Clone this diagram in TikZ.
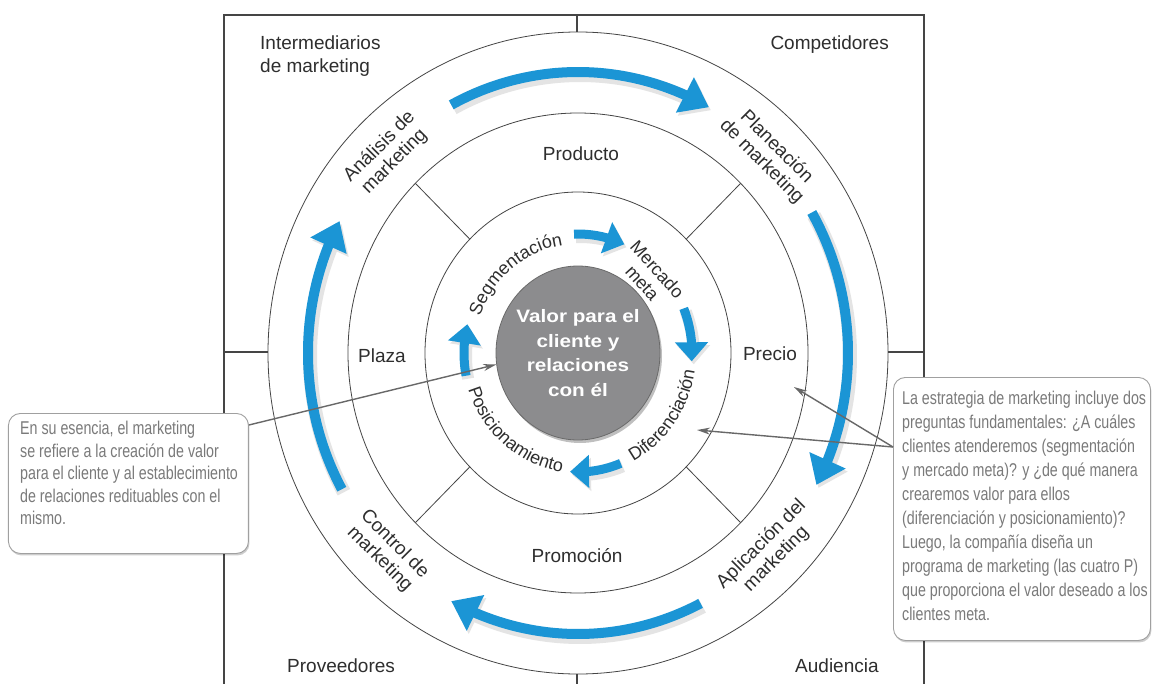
\documentclass[tikz,border=0pt]{standalone}
\usepackage{fontspec}
\setmainfont{Liberation Sans}
\newfontfamily\notefont{Liberation Sans}[FakeStretch=0.77]
\newfontfamily\corefont{Liberation Sans}[FakeStretch=1.15]
\usetikzlibrary{arrows.meta,bending,shapes.geometric,shadows,decorations.text}
\definecolor{ink}{HTML}{2E2E2E}
\definecolor{rim}{HTML}{454545}
\definecolor{flow}{HTML}{1B95D5}
\definecolor{hub}{HTML}{8C8C8E}
\definecolor{note}{HTML}{7A7A7A}
\definecolor{frame}{HTML}{A0A0A0}
\definecolor{haze}{HTML}{E4E4E4}
\newcommand{\ringfont}{\fontsize{18}{20}\selectfont}

\begin{document}
\begin{tikzpicture}[x=1pt,y=1pt,
 lbl/.style={text=ink,inner sep=0pt,font=\fontsize{19}{23}\selectfont},
 band/.style={lbl,align=center,font=\fontsize{19}{21}\selectfont},
 ring/.style={draw=rim,line width=0.8pt},
 edge/.style={draw=rim,line width=1.1pt},
 bigflow/.style={draw=flow,line width=10pt,-{Triangle[length=27pt,width=38pt]}},
 smallflow/.style={draw=flow,line width=9pt,-{Triangle[length=19pt,width=32pt]}},
 hubnode/.style={ellipse,draw=rim!80,line width=0.8pt,fill=hub,inner sep=0pt,
 minimum width=164pt,minimum height=174pt,
 drop shadow={shadow xshift=2pt,shadow yshift=-3pt,opacity=0.25,fill=black}},
 coretext/.style={text=white,align=center,inner sep=0pt,
 font=\corefont\bfseries\fontsize{18}{24.5}\selectfont},
 notebox/.style={rectangle,rounded corners=12pt,draw=frame,line width=0.9pt,fill=white,
 inner sep=0pt,anchor=north west,
 drop shadow={shadow xshift=1pt,shadow yshift=-2pt,opacity=0.2,fill=black}},
 notetext/.style={text=note,align=left,inner sep=0pt,anchor=north west},
 pointer/.style={draw=note!85!black,line width=1.4pt,-{Stealth[length=13pt,width=7pt]}}]
\useasboundingbox[fill=white] (-578,-330) rectangle (578,353);

\draw[edge] (-354,-335) -- (-354,338) -- (346,338) -- (346,-335);
\draw[edge] (-1,338) -- (-1,321);
\draw[edge] (-1,-321) -- (-1,-335);
\draw[edge] (-354,1) -- (-310,1);
\draw[edge] (310,1) -- (346,1);

\draw[ring] (0,0) ellipse [x radius=310,y radius=321];
\draw[ring] (0,0) ellipse [x radius=230,y radius=240];
\draw[ring] (0,0) ellipse [x radius=153,y radius=161];
\foreach \t in {45,135,225,315}
 \draw[ring] (\t:153 and 161) -- (\t:230 and 240);

\foreach \a/\b in {118/61,30/-28,-63/-118,209/152}{
 \draw[bigflow,draw=haze,line width=14pt,shift={(2,-3)}] (\a:270 and 281)
 arc[start angle=\a,end angle=\b,x radius=270,y radius=281];
 \draw[bigflow] (\a:270 and 281)
 arc[start angle=\a,end angle=\b,x radius=270,y radius=281];
}
\foreach \a/\b in {92/66,22/-4,-68/-94,191/166}{
 \draw[smallflow,draw=haze,line width=12pt,shift={(2,-3)}] (\a:114 and 119)
 arc[start angle=\a,end angle=\b,x radius=114,y radius=119];
 \draw[smallflow] (\a:114 and 119)
 arc[start angle=\a,end angle=\b,x radius=114,y radius=119];
}

\node[hubnode] (core) at (0,0) {};
\node[coretext] (valor) at (core.center) {Valor para el\\cliente y\\relaciones\\con él};

\node[lbl,anchor=north west,align=left] (interm) at (-318,317) {Intermediarios\\de marketing};
\node[lbl,anchor=base east] (compet) at (311,303) {Competidores};
\node[lbl,anchor=base west] (provee) at (-291,-319) {Proveedores};
\node[lbl,anchor=base west] (audien) at (217,-319) {Audiencia};

\node[lbl,anchor=base] (producto) at (3,192) {Producto};
\node[lbl,anchor=base] (plaza) at (-196,-9) {Plaza};
\node[lbl,anchor=base] (precio) at (192,-7) {Precio};
\node[lbl,anchor=base] (promocion) at (-1,-209) {Promoción};

\node[band,rotate=45] (analisis) at (135:270 and 281) {Análisis de\\marketing};
\node[band,rotate=-45] (planeacion) at (45:270 and 281) {Planeación\\de marketing};
\node[band,rotate=45] (aplicacion) at (-45:270 and 281) {Aplicación del\\marketing};
\node[band,rotate=-45] (controlm) at (-135:270 and 281) {Control de\\marketing};

\path[decorate,decoration={text along path,text align=center,
 text={|\ringfont\color{ink}|Segmentación}}]
 (175:104 and 109) arc[start angle=175,end angle=83,x radius=104,y radius=109];
\path[decorate,decoration={text along path,text align=center,
 text={|\ringfont\color{ink}|Posicionamiento}}]
 (185:115 and 120) arc[start angle=185,end angle=275,x radius=115,y radius=120];
\path[decorate,decoration={text along path,text align=center,
 text={|\ringfont\color{ink}|Diferenciación}}]
 (-80:118 and 123) arc[start angle=-80,end angle=9,x radius=118,y radius=123];
\node[band,rotate=-48,font=\ringfont] (meta) at (72,77) {Mercado\\meta};

\node[notebox,minimum width=240pt,minimum height=140pt] (esencia) at (-570,-60) {};
\node[notetext,font=\notefont\fontsize{18.5}{22.5}\selectfont] (esenciatxt)
 at ([xshift=12pt,yshift=-8pt]esencia.north west)
 {En su esencia, el marketing\\se refiere a la creación de valor\\para el cliente y al establecimiento\\de relaciones redituables con el\\mismo.};

\node[notebox,minimum width=257pt,minimum height=263pt] (estrategia) at (315,-24) {};
\node[notetext,font=\notefont\fontsize{18.5}{24}\selectfont] (estrategiatxt)
 at ([xshift=9pt,yshift=-14pt]estrategia.north west)
 {La estrategia de marketing incluye dos\\preguntas fundamentales: ¿A cuáles\\clientes atenderemos (segmentación\\y mercado meta)? y ¿de qué manera\\crearemos valor para ellos\\(diferenciación y posicionamiento)?\\Luego, la compañía diseña un\\programa de marketing (las cuatro P)\\que proporciona el valor deseado a los\\clientes meta.};

\coordinate (preciotip) at (216,-34);
\coordinate (difftip) at (119,-77);
\draw[pointer] ([yshift=-12pt]esencia.north east) -- (core.188);
\draw[pointer] ([yshift=-70pt]estrategia.north west) -- (preciotip);
\draw[pointer] ([yshift=-70pt]estrategia.north west) -- (difftip);
\end{tikzpicture}
\end{document}
